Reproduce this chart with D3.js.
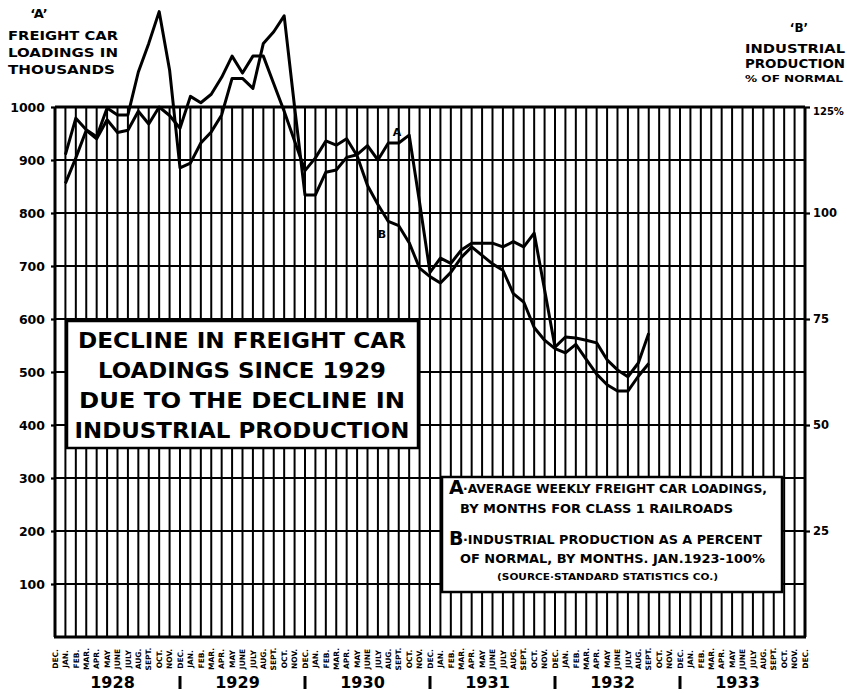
<!DOCTYPE html>
<html>
<head>
<meta charset="utf-8">
<script src="https://cdn.jsdelivr.net/npm/d3@7"></script>
<style>
  html, body { margin: 0; padding: 0; background: #fff; }
  svg { display: block; }
  text { font-family: "DejaVu Sans", sans-serif; font-weight: bold; fill: #000; }
</style>
</head>
<body>
<svg id="chart" width="847" height="693"></svg>
<script>
const monthNames = ["JAN.", "FEB.", "MAR.", "APR.", "MAY", "JUNE", "JULY", "AUG.", "SEPT.", "OCT.", "NOV.", "DEC."];
const years = [1928, 1929, 1930, 1931, 1932, 1933];
// x ticks: Dec 1927, then every month through Dec 1933
const monthTicks = ["DEC."].concat(...years.map(() => monthNames));

// A - average weekly freight car loadings (thousands), Jan 1928 .. Sep 1932
const loadings = [
  910, 979, 957, 944, 998, 985, 985, 1066, 1120, 1180, 1070, 885,
  894, 932, 953, 985, 1054, 1054, 1035, 1120, 1142, 1172, 1000, 834,
  834, 877, 881, 905, 910, 927, 900, 932, 932, 947, 820, 688,
  715, 705, 730, 743, 743, 743, 736, 746, 736, 762, 655, 547,
  566, 564, 560, 555, 523, 504, 491, 517, 573
];
// B - industrial production, % of normal, Jan 1928 .. Sep 1932
const production = [
  107, 113, 119.5, 117.5, 122, 119, 119.5, 124, 121, 125, 123, 120,
  127.5, 126, 128, 132, 137, 133, 137, 137, 130.5, 124, 117, 110,
  113, 117, 116, 117.5, 113.5, 106.5, 102, 98, 97, 93, 87, 85,
  83.5, 86, 89.5, 92, 90, 88, 86.5, 81, 79, 73, 70, 68,
  67, 69, 65.5, 62, 59.5, 58, 58, 61.5, 64.5
];
const firstDataTick = 1; // Jan 1928

const leftTicks = [100, 200, 300, 400, 500, 600, 700, 800, 900, 1000];
const rightTicks = [25, 50, 75, 100, 125];

const titleA = ["FREIGHT CAR", "LOADINGS IN", "THOUSANDS"];
const titleB = ["INDUSTRIAL", "PRODUCTION"];
const headline = ["DECLINE IN FREIGHT CAR", "LOADINGS SINCE 1929", "DUE TO THE DECLINE IN", "INDUSTRIAL PRODUCTION"];

const svg = d3.select("#chart");

const x = d3.scalePoint().domain(d3.range(monthTicks.length)).range([55, 805]);
const yA = d3.scaleLinear().domain([0, 1000]).range([637, 107]);
const yB = d3.scaleLinear().domain([0, 125]).range([637, 107]);

// grid
const grid = svg.append("g").attr("stroke", "#000");
grid.selectAll("line.v")
  .data(x.domain())
  .join("line")
  .attr("class", "v")
  .attr("x1", d => x(d)).attr("x2", d => x(d))
  .attr("y1", yA(1000)).attr("y2", yA(0))
  .attr("stroke-width", (d, i) => (i === 0 || i === monthTicks.length - 1) ? 3 : 2);
grid.selectAll("line.h")
  .data(leftTicks)
  .join("line")
  .attr("class", "h")
  .attr("x1", x(0)).attr("x2", x(monthTicks.length - 1))
  .attr("y1", d => yA(d)).attr("y2", d => yA(d))
  .attr("stroke-width", d => d === 1000 ? 3 : 2.2);
grid.append("line")
  .attr("x1", x(0) - 1).attr("x2", x(monthTicks.length - 1) + 1)
  .attr("y1", yA(0)).attr("y2", yA(0))
  .attr("stroke-width", 3);

// axes
const leftAxis = svg.append("g")
  .attr("transform", `translate(${x(0)},0)`)
  .call(d3.axisLeft(yA).tickValues(leftTicks).tickSize(4).tickPadding(6).tickFormat(d3.format("d")));
leftAxis.select(".domain").remove();
leftAxis.selectAll("line").attr("stroke", "#000").attr("stroke-width", 2.2);
leftAxis.selectAll("text").attr("font-size", 12.5).attr("font-family", "DejaVu Sans").attr("font-weight", "bold");

const rightAxis = svg.append("g")
  .attr("transform", `translate(${x(monthTicks.length - 1)},0)`)
  .call(d3.axisRight(yB).tickValues(rightTicks).tickSize(5).tickPadding(3).tickFormat(d => d === 125 ? "125%" : d));
rightAxis.select(".domain").remove();
rightAxis.selectAll("line").attr("stroke", "#000").attr("stroke-width", 2.2);
rightAxis.selectAll("text").attr("font-size", 11.5).attr("font-family", "DejaVu Sans").attr("font-weight", "bold");
rightAxis.selectAll(".tick").filter(d => d === 125).select("text").attr("dy", "0.75em").attr("font-size", 10);

// month labels
svg.append("g").selectAll("text")
  .data(monthTicks)
  .join("text")
  .attr("transform", (d, i) => `translate(${x(i) + 2.7},659) rotate(-90)`)
  .attr("text-anchor", "middle")
  .attr("font-size", 7.5)
  .text(d => d);

// year labels and separators
svg.append("g").selectAll("text")
  .data(years)
  .join("text")
  .attr("x", (d, i) => x(i * 12 + 6) - 5)
  .attr("y", 688)
  .attr("text-anchor", "middle")
  .attr("font-size", 16)
  .text(d => d);
svg.append("g").selectAll("line")
  .data(years.slice(0, -1))
  .join("line")
  .attr("x1", (d, i) => x((i + 1) * 12)).attr("x2", (d, i) => x((i + 1) * 12))
  .attr("y1", 676).attr("y2", 689)
  .attr("stroke", "#000").attr("stroke-width", 3);

// series
const lineA = d3.line().x((d, i) => x(i + firstDataTick)).y(d => yA(d));
const lineB = d3.line().x((d, i) => x(i + firstDataTick)).y(d => yB(d));
svg.append("path").datum(production)
  .attr("d", lineB).attr("fill", "none").attr("stroke", "#000")
  .attr("stroke-width", 3).attr("stroke-linejoin", "round");
svg.append("path").datum(loadings)
  .attr("d", lineA).attr("fill", "none").attr("stroke", "#000")
  .attr("stroke-width", 3).attr("stroke-linejoin", "round");
svg.append("text").attr("x", 397).attr("y", 136).attr("font-size", 11).attr("text-anchor", "middle").text("A");
svg.append("text").attr("x", 382).attr("y", 238).attr("font-size", 11).attr("text-anchor", "middle").text("B");

// titles
svg.append("text").attr("x", 39).attr("y", 18).attr("font-size", 13).attr("text-anchor", "middle").text("‘A’");
svg.append("g").selectAll("text")
  .data(titleA)
  .join("text")
  .attr("x", 8).attr("y", (d, i) => 40 + i * 17)
  .attr("font-size", 13)
  .attr("textLength", (d, i) => i === 2 ? 107 : 110)
  .attr("lengthAdjust", "spacingAndGlyphs")
  .text(d => d);
svg.append("text").attr("x", 799).attr("y", 32).attr("font-size", 12).attr("text-anchor", "middle").text("‘B’");
svg.append("g").selectAll("text")
  .data(titleB)
  .join("text")
  .attr("x", 745).attr("y", (d, i) => 53 + i * 15)
  .attr("font-size", 11.5)
  .attr("textLength", 100)
  .attr("lengthAdjust", "spacingAndGlyphs")
  .text(d => d);
svg.append("text").attr("x", 745).attr("y", 82).attr("font-size", 9.5)
  .attr("textLength", 98).attr("lengthAdjust", "spacingAndGlyphs").text("% OF NORMAL");

// headline box
svg.append("rect").attr("x", 67).attr("y", 321).attr("width", 351).attr("height", 127)
  .attr("fill", "#fff").attr("stroke", "#000").attr("stroke-width", 2.5);
svg.append("g").selectAll("text")
  .data(headline)
  .join("text")
  .attr("x", 242).attr("y", (d, i) => 348 + i * 30)
  .attr("text-anchor", "middle")
  .attr("font-size", 21)
  .attr("textLength", (d, i) => [328, 288, 326, 335][i])
  .attr("lengthAdjust", "spacingAndGlyphs")
  .text(d => d);

// legend box
svg.append("rect").attr("x", 442).attr("y", 477).attr("width", 340).attr("height", 115)
  .attr("fill", "#fff").attr("stroke", "#000").attr("stroke-width", 2.5);
const legend = svg.append("g");
legend.append("text").attr("x", 449).attr("y", 494).attr("font-size", 19).text("A");
legend.append("text").attr("x", 463).attr("y", 493).attr("font-size", 12)
  .attr("textLength", 304).attr("lengthAdjust", "spacingAndGlyphs").text("·AVERAGE WEEKLY FREIGHT CAR LOADINGS,");
legend.append("text").attr("x", 460).attr("y", 513).attr("font-size", 12)
  .attr("textLength", 273).attr("lengthAdjust", "spacingAndGlyphs").text("BY MONTHS FOR CLASS 1 RAILROADS");
legend.append("text").attr("x", 449).attr("y", 545).attr("font-size", 19).text("B");
legend.append("text").attr("x", 463).attr("y", 544).attr("font-size", 12)
  .attr("textLength", 299).attr("lengthAdjust", "spacingAndGlyphs").text("·INDUSTRIAL PRODUCTION AS A PERCENT");
legend.append("text").attr("x", 460).attr("y", 563).attr("font-size", 12)
  .attr("textLength", 305).attr("lengthAdjust", "spacingAndGlyphs").text("OF NORMAL, BY MONTHS. JAN.1923-100%");
legend.append("text").attr("x", 497).attr("y", 580).attr("font-size", 8.5)
  .attr("textLength", 221).attr("lengthAdjust", "spacingAndGlyphs").text("(SOURCE·STANDARD STATISTICS CO.)");
</script>
</body>
</html>
